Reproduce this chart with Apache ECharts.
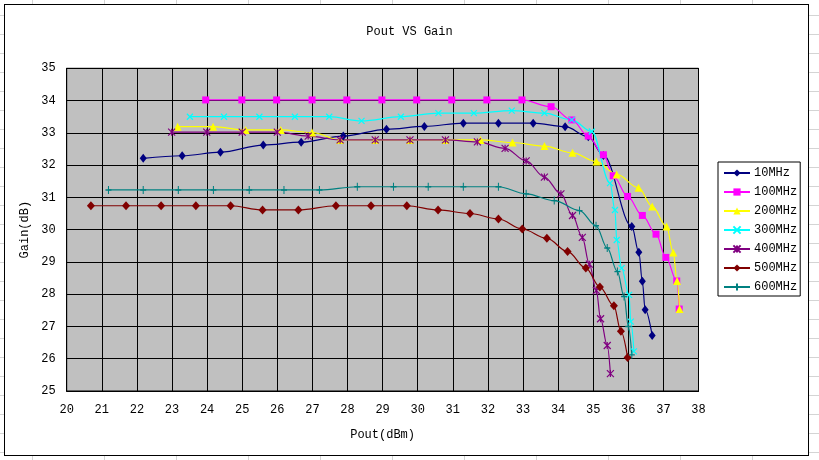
<!DOCTYPE html>
<html>
<head>
<meta charset="utf-8">
<script src="https://cdn.jsdelivr.net/npm/echarts@6/dist/echarts.min.js"></script>
<style>
    html, body {
        margin: 0;
        padding: 0;
        width: 819px;
        height: 460px;
        overflow: hidden;
        background-color: #fff;
        /* 表格底纹 */
        background-image:
            linear-gradient(to right, #d4d4d4 1px, transparent 1px),
            linear-gradient(to bottom, #d4d4d4 1px, transparent 1px);
        background-size: 72px 19px;
        background-position: 32px 15px;
    }
    #frame {
        position: absolute;
        left: 4px;
        top: 4px;
        width: 803px;
        height: 450px;
        background: #fff;
        border: 1px solid #000;
    }
    #chart {
        position: absolute;
        left: 0;
        top: 0;
        width: 819px;
        height: 460px;
    }
</style>
</head>
<body>
<div id="frame"></div>
<div id="chart"></div>
<script>
    // 数据：[Pout(dBm), Gain(dB)]
    const legendNames = ['10MHz', '100MHz', '200MHz', '300MHz', '400MHz', '500MHz', '600MHz'];
    const xTicks = { min: 20, max: 38, interval: 1 };
    const yTicks = { min: 25, max: 35, interval: 1 };

    const gain10 = [
        [22.18, 32.21], [23.29, 32.29], [24.38, 32.4], [25.6, 32.62], [26.68, 32.71],
        [27.88, 32.9], [29.11, 33.11], [30.19, 33.2], [31.3, 33.3], [32.3, 33.3],
        [33.29, 33.3], [34.2, 33.19], [34.86, 32.88], [35.29, 32.3], [36.1, 30.1],
        [36.3, 29.3], [36.4, 28.4], [36.48, 27.52], [36.68, 26.72]
    ];
    const gain100 = [
        [23.96, 34.02], [24.99, 34.02], [25.98, 34.02], [26.99, 34.02], [27.98, 34.02],
        [28.98, 34.02], [29.97, 34.02], [30.97, 34.02], [31.97, 34.02], [32.97, 34.02],
        [33.8, 33.81], [34.39, 33.4], [34.86, 32.9], [35.29, 32.32], [35.57, 31.67],
        [35.98, 31.03], [36.4, 30.44], [36.79, 29.86], [37.07, 29.14], [37.38, 28.41],
        [37.45, 27.54]
    ];
    const gain200 = [
        [23.16, 33.19], [24.17, 33.19], [25.1, 33.09], [26.1, 33.09], [26.99, 33.01],
        [27.79, 32.78], [28.79, 32.78], [29.78, 32.78], [30.79, 32.78], [31.79, 32.78],
        [32.7, 32.7], [33.61, 32.59], [34.41, 32.38], [35.09, 32.11], [35.67, 31.71],
        [36.29, 31.3], [36.68, 30.72], [37.09, 30.1], [37.28, 29.29], [37.39, 28.41],
        [37.46, 27.54]
    ];
    const gain300 = [
        [23.51, 33.5], [24.48, 33.5], [25.49, 33.5], [26.5, 33.5], [27.48, 33.5],
        [28.4, 33.37], [29.52, 33.5], [30.59, 33.61], [31.6, 33.61], [32.68, 33.69],
        [33.61, 33.61], [34.39, 33.4], [34.96, 33.04], [35.48, 31.44], [35.62, 30.61],
        [35.67, 29.68], [35.81, 28.81], [36.02, 27.98], [36.07, 27.15], [36.16, 26.23]
    ];
    const gain400 = [
        [22.99, 33.02], [23.99, 33.02], [25.0, 33.02], [26.0, 33.02], [26.88, 32.9],
        [27.79, 32.78], [28.79, 32.78], [29.78, 32.78], [30.79, 32.78], [31.7, 32.72],
        [32.49, 32.52], [33.09, 32.13], [33.61, 31.63], [34.08, 31.11], [34.41, 30.44],
        [34.69, 29.76], [34.89, 28.93], [35.09, 28.11], [35.21, 27.24], [35.4, 26.41],
        [35.49, 25.54]
    ];
    const gain500 = [
        [20.69, 30.74], [21.69, 30.74], [22.69, 30.74], [23.68, 30.74], [24.67, 30.74],
        [25.58, 30.61], [26.6, 30.61], [27.67, 30.74], [28.67, 30.74], [29.69, 30.74],
        [30.58, 30.61], [31.49, 30.5], [32.3, 30.33], [32.98, 30.02], [33.68, 29.73],
        [34.27, 29.32], [34.79, 28.81], [35.19, 28.22], [35.59, 27.64], [35.79, 26.85],
        [35.98, 26.04]
    ];
    const gain600 = [
        [21.19, 31.23], [22.18, 31.23], [23.18, 31.23], [24.18, 31.23], [25.2, 31.23],
        [26.19, 31.23], [27.2, 31.23], [28.28, 31.33], [29.31, 31.33], [30.3, 31.33],
        [31.3, 31.33], [32.3, 31.33], [33.09, 31.11], [33.89, 30.9], [34.61, 30.59],
        [35.08, 30.12], [35.4, 29.43], [35.69, 28.7], [35.88, 27.93], [36.0, 27.0],
        [36.1, 26.12]
    ];

    const seriesData = [gain10, gain100, gain200, gain300, gain400, gain500, gain600];
    const colors = ['#000080', '#ff00ff', '#ffff00', '#00ffff', '#800080', '#800000', '#008080'];
    // 标记形状（仿 Excel）
    const symbols = [
        'diamond',
        'rect',
        'triangle',
        'path://M0,0L10,10M10,0L0,10',
        'path://M0,0L10,10M10,0L0,10M5,0L5,10',
        'diamond',
        'path://M5,0L5,10M0,5L10,5'
    ];
    const symbolSizes = [[7, 9], 7, 8, 6, 7, [8, 9], [6, 8]];
    const fontFamily = '"Liberation Mono", "DejaVu Sans Mono", monospace';

    const myChart = echarts.init(document.getElementById('chart'));

    let series = legendNames.map((name, i) => {
        const isPath = symbols[i].indexOf('path://') === 0;
        return {
            name: name,
            type: 'line',
            data: seriesData[i],
            smooth: 0.35,
            smoothMonotone: 'x',
            symbol: symbols[i],
            symbolSize: symbolSizes[i],
            showAllSymbol: true,
            lineStyle: { color: colors[i], width: 1.2 },
            itemStyle: {
                color: colors[i],
                borderColor: colors[i],
                borderWidth: isPath ? 1.2 : 0
            },
            emphasis: { disabled: true },
            animation: false
        };
    });

    myChart.setOption({
        textStyle: { fontFamily: fontFamily },
        title: {
            text: 'Pout VS Gain',
            left: 'center',
            top: 21,
            textStyle: { fontFamily: fontFamily, fontSize: 12, fontWeight: 'normal', color: '#000' }
        },
        grid: {
            left: 66.7,
            right: 120.5,
            top: 68.3,
            bottom: 69,
            show: true,
            backgroundColor: '#c0c0c0',
            borderColor: '#000',
            borderWidth: 1
        },
        legend: {
            orient: 'vertical',
            left: 718,
            top: 162,
            padding: [5, 3, 3, 5],
            itemWidth: 26,
            itemHeight: 9,
            itemGap: 7,
            backgroundColor: '#fff',
            borderColor: '#000',
            borderWidth: 1,
            borderRadius: 0,
            selectedMode: false,
            textStyle: { fontFamily: fontFamily, fontSize: 12, color: '#000', padding: [0, 0, 0, -1] },
            data: legendNames
        },
        xAxis: {
            type: 'value',
            min: xTicks.min,
            max: xTicks.max,
            interval: xTicks.interval,
            name: 'Pout(dBm)',
            nameLocation: 'middle',
            nameGap: 38,
            nameTextStyle: { fontFamily: fontFamily, fontSize: 12, color: '#000' },
            axisLine: { show: true, lineStyle: { color: '#000', width: 1 } },
            axisTick: { show: false },
            axisLabel: { margin: 13, fontFamily: fontFamily, fontSize: 12, color: '#000' },
            splitLine: { show: true, lineStyle: { color: '#000', width: 1 } }
        },
        yAxis: {
            type: 'value',
            min: yTicks.min,
            max: yTicks.max,
            interval: yTicks.interval,
            name: 'Gain(dB)',
            nameLocation: 'middle',
            nameGap: 34,
            nameTextStyle: { fontFamily: fontFamily, fontSize: 12, color: '#000' },
            axisLine: { show: true, lineStyle: { color: '#000', width: 1 } },
            axisTick: { show: false },
            axisLabel: { margin: 11, fontFamily: fontFamily, fontSize: 12, color: '#000' },
            splitLine: { show: true, lineStyle: { color: '#000', width: 1 } }
        },
        series: series
    });
</script>
</body>
</html>
